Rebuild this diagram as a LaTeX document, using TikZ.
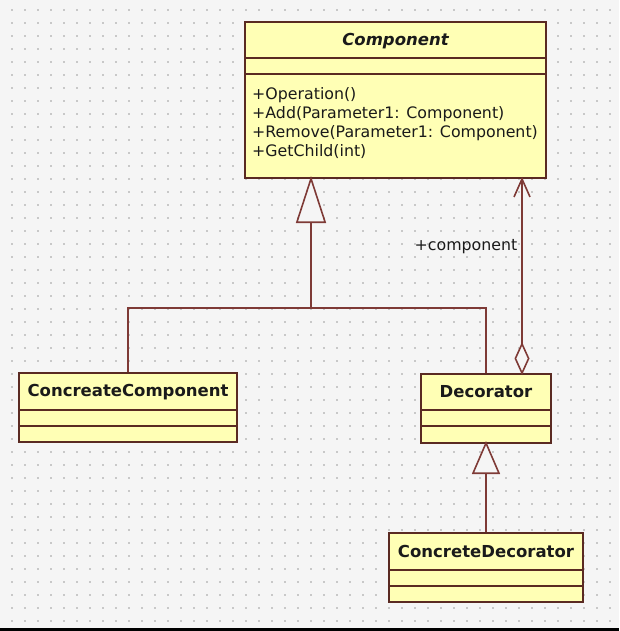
\documentclass[tikz,border=0pt]{standalone}
\usepackage{fontspec}
\setmainfont{DejaVu Sans}
\usetikzlibrary{arrows.meta}
\definecolor{bgc}{HTML}{F5F5F5}
\definecolor{dotc}{HTML}{C8C8C8}
\definecolor{boxfill}{HTML}{FFFFB5}
\definecolor{boxline}{HTML}{5A2A22}
\definecolor{connc}{HTML}{7E3A36}
\definecolor{txtc}{HTML}{1A1A1A}
\tikzset{
  classbox/.style={draw=boxline, fill=boxfill, line width=2pt, inner sep=0pt},
  sepline/.style={draw=boxline, line width=1.6pt},
  conn/.style={draw=connc, line width=1.6pt},
  cname/.style={font=\fontsize{16.5}{19}\selectfont\bfseries, text=txtc, inner sep=0pt},
  optext/.style={font=\fontsize{15.8}{19}\selectfont, text=txtc, inner sep=0pt, anchor=west},
}
\begin{document}
\begin{tikzpicture}[x=1pt,y=-1pt]
\useasboundingbox (0,0) rectangle (619,631);
\fill[bgc] (0,0) rectangle (619,631);
\foreach \i in {0,...,47} {
  \foreach \j in {0,...,47} {
    \fill[dotc] ({12+13*\i-0.8},{10+13*\j-0.8}) rectangle ++(1.6,1.6);
  }
}
\fill[black] (0,628) rectangle (619,631);

% Component
\node[classbox, minimum width=301, minimum height=156] (comp) at (395.5,100) {};
\draw[sepline] (245,58) -- (546,58);
\draw[sepline] (245,74) -- (546,74);
\node[cname, font=\fontsize{16.5}{19}\selectfont\bfseries\itshape] (compname) at (395.5,41) {Component};
\node[optext] (op1) at (252,95) {+Operation()};
\node[optext] (op2) at (252,114) {+Add(Parameter1: Component)};
\node[optext] (op3) at (252,133) {+Remove(Parameter1: Component)};
\node[optext] (op4) at (252,152) {+GetChild(int)};

% ConcreateComponent
\node[classbox, minimum width=218, minimum height=69] (cc) at (128,407.5) {};
\draw[sepline] (19,410) -- (237,410);
\draw[sepline] (19,426) -- (237,426);
\node[cname] (ccname) at (128,392) {ConcreateComponent};

% Decorator
\node[classbox, minimum width=130, minimum height=69] (dec) at (486,408.5) {};
\draw[sepline] (421,410) -- (551,410);
\draw[sepline] (421,426) -- (551,426);
\node[cname] (decname) at (486,392) {Decorator};

% ConcreteDecorator
\node[classbox, minimum width=194, minimum height=69] (cd) at (486,567.5) {};
\draw[sepline] (389,570) -- (583,570);
\draw[sepline] (389,586) -- (583,586);
\node[cname] (cdname) at (486,551) {ConcreteDecorator};

% generalization to Component
\coordinate (j) at (311,308);
\draw[conn] (cc.north) |- (j) -| (dec.north);
\draw[conn, shorten >=-3pt, -{Triangle[open, length=47, width=30, fill=bgc]}] (j) -- (j |- comp.south);

% generalization to Decorator
\draw[conn, shorten >=-3pt, -{Triangle[open, length=33, width=28, fill=bgc]}] (cd.north) -- (dec.south);

% association
\coordinate (ax) at (522,0);
\draw[conn, shorten <=-2pt, shorten >=-2pt, {Diamond[open, length=33, width=15, fill=bgc]}-{Straight Barb[length=18, width=16]}] (ax |- dec.north) -- (ax |- comp.south);
\node[font=\fontsize{15.8}{19}\selectfont, text=txtc, inner sep=0pt] (lbl) at (466,247) {+component};
\end{tikzpicture}
\end{document}
